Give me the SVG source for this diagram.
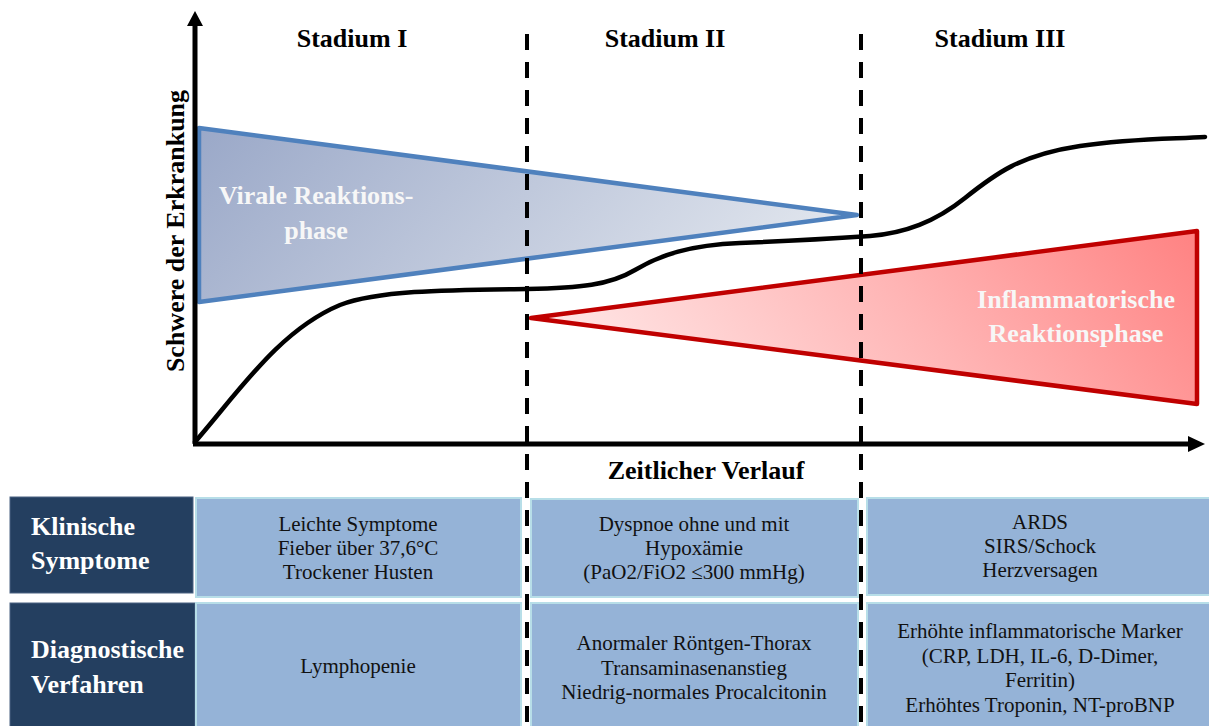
<svg xmlns="http://www.w3.org/2000/svg" width="1209" height="726" viewBox="0 0 1209 726">
<defs>
<linearGradient id="gBlue" x1="0" y1="0" x2="1" y2="0.25">
<stop offset="0" stop-color="#9AA8C8"/>
<stop offset="1" stop-color="#DEE3EC"/>
</linearGradient>
<linearGradient id="gRed" x1="0" y1="0.2" x2="1" y2="0">
<stop offset="0" stop-color="#FFE3E3"/>
<stop offset="0.5" stop-color="#FFB5B5"/>
<stop offset="1" stop-color="#FF8282"/>
</linearGradient>
<style>
text{font-family:"Liberation Serif","Times New Roman",serif;}
.b{font-weight:bold;font-size:26px;}
.w{fill:#F7F7F7;}
.hdr{fill:#243F60;stroke:#4A6282;stroke-width:1;}
.cell{fill:#95B3D7;stroke:#B7DEE8;stroke-width:2;}
.t{font-size:21px;fill:#111;text-anchor:middle;}
.hd{font-weight:bold;font-size:26px;fill:#FFFFFF;}
.dash{stroke:#000;stroke-width:4;stroke-dasharray:16 12;fill:none;}
</style>
</defs>

<g id="table">
<g id="hdr-symptome">
<rect class="hdr" x="10" y="497" width="183" height="96"/>
<text class="hd" x="31" y="535">Klinische</text>
<text class="hd" x="31" y="569">Symptome</text>
</g>
<g id="hdr-diagnostik">
<rect class="hdr" x="10" y="603" width="185" height="126"/>
<text class="hd" x="31" y="658">Diagnostische</text>
<text class="hd" x="31" y="693">Verfahren</text>
</g>
<g id="s1-symptome">
<rect class="cell" x="196" y="498" width="325" height="99"/>
<text class="t" x="358" y="531">Leichte Symptome</text>
<text class="t" x="358" y="555">Fieber über 37,6°C</text>
<text class="t" x="358" y="579">Trockener Husten</text>
</g>
<g id="s1-diagnostik">
<rect class="cell" x="196" y="603" width="325" height="126"/>
<text class="t" x="358" y="673">Lymphopenie</text>
</g>
<g id="s2-symptome">
<rect class="cell" x="531" y="499" width="327" height="98"/>
<text class="t" x="694" y="531">Dyspnoe ohne und mit</text>
<text class="t" x="694" y="555">Hypoxämie</text>
<text class="t" x="694" y="579">(PaO2/FiO2 ≤300 mmHg)</text>
</g>
<g id="s2-diagnostik">
<rect class="cell" x="531" y="603" width="327" height="126"/>
<text class="t" x="694" y="650">Anormaler Röntgen-Thorax</text>
<text class="t" x="694" y="675">Transaminasenanstieg</text>
<text class="t" x="694" y="699">Niedrig-normales Procalcitonin</text>
</g>
<g id="s3-symptome">
<rect class="cell" x="867" y="498" width="345" height="97"/>
<text class="t" x="1040" y="529">ARDS</text>
<text class="t" x="1040" y="553">SIRS/Schock</text>
<text class="t" x="1040" y="577">Herzversagen</text>
</g>
<g id="s3-diagnostik">
<rect class="cell" x="867" y="603" width="345" height="126"/>
<text class="t" x="1040" y="638">Erhöhte inflammatorische Marker</text>
<text class="t" x="1040" y="663">(CRP, LDH, IL-6, D-Dimer,</text>
<text class="t" x="1040" y="687">Ferritin)</text>
<text class="t" x="1040" y="712">Erhöhtes Troponin, NT-proBNP</text>
</g>
</g>

<g id="viral-phase">
<polygon points="199,128 857,215 199,302" fill="url(#gBlue)" stroke="#4F81BD" stroke-width="4.5" stroke-linejoin="round"/>
<text class="b w" x="316" y="204" text-anchor="middle">Virale Reaktions-</text>
<text class="b w" x="316" y="239" text-anchor="middle">phase</text>
</g>

<g id="inflammatory-phase">
<polygon points="531,318 1197,231 1197,404" fill="url(#gRed)" stroke="#C00000" stroke-width="4.5" stroke-linejoin="round"/>
<text class="b w" x="1076" y="308" text-anchor="middle">Inflammatorische</text>
<text class="b w" x="1076" y="342" text-anchor="middle">Reaktionsphase</text>
</g>

<g id="connectors">
<path d="M195,442 C240,390 280,330 340,305 C380,290 450,290 527,289 C580,288 610,285 635,270 C660,255 690,245 740,243 C800,240.6 840,238 870,236 C905,233 935,222 965,198 C995,174 1020,155 1080,146 C1130,138.5 1170,139 1205,137" fill="none" stroke="#000" stroke-width="4.5" stroke-linecap="round"/>
<line class="dash" x1="527" y1="34" x2="527" y2="726"/>
<line class="dash" x1="861" y1="34" x2="861" y2="726"/>
<line x1="195" y1="444" x2="195" y2="22" stroke="#000" stroke-width="5"/>
<polygon points="195,11 187,26 203,26" fill="#000"/>
<line x1="193" y1="444" x2="1192" y2="444" stroke="#000" stroke-width="5"/>
<polygon points="1205,444 1188,436 1188,452" fill="#000"/>
</g>

<g id="labels">
<text class="b" x="352" y="47" text-anchor="middle">Stadium I</text>
<text class="b" x="665" y="47" text-anchor="middle">Stadium II</text>
<text class="b" x="1000" y="47" text-anchor="middle">Stadium III</text>
<text class="b" x="706" y="479" text-anchor="middle">Zeitlicher Verlauf</text>
<text class="b" x="184" y="231" text-anchor="middle" transform="rotate(-90 184 231)">Schwere der Erkrankung</text>
</g>
</svg>
